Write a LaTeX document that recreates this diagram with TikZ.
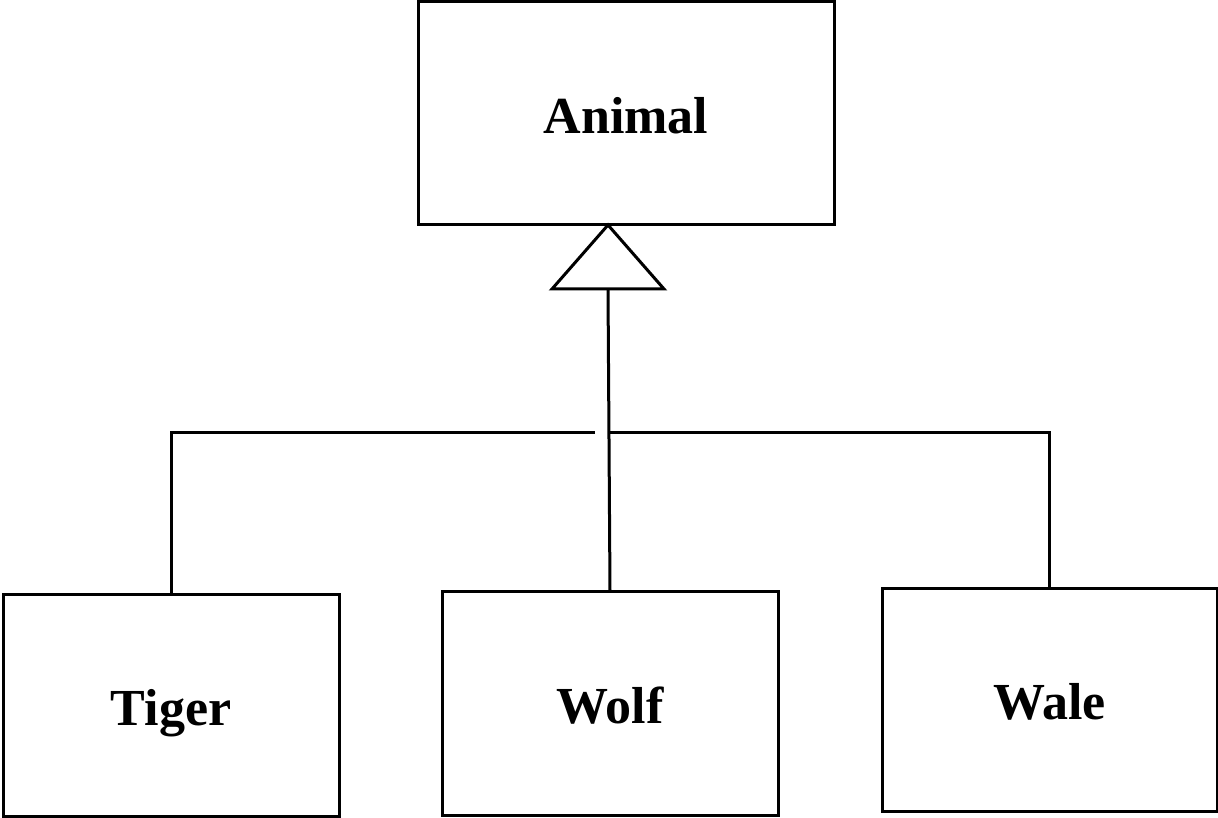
\documentclass[tikz,border=0pt]{standalone}
\usepackage{fontspec}
\setmainfont{Liberation Serif}
\begin{document}
\begin{tikzpicture}[x=1pt,y=-1pt,
  cls/.style={draw=black, line width=3pt, fill=white, inner sep=0pt, outer sep=0pt,
    text height=40pt, text depth=0pt,
    font=\fontsize{52}{60}\selectfont\bfseries},
  link/.style={draw=black, line width=3pt}]
\useasboundingbox (0,0) rectangle (1218,818);

% class boxes
\node[cls, minimum width=416pt, minimum height=223pt] (animal) at (626,113.5) {Animal};
\node[cls, minimum width=336pt, minimum height=222pt] (tiger) at (171,705) {Tiger};
\node[cls, minimum width=336pt, minimum height=224pt] (wolf) at (610,703) {Wolf};
\node[cls, minimum width=335pt, minimum height=223pt] (wale) at (1049.5,699.5) {Wale};

% inheritance arrowhead
\coordinate (tip) at (608,225);
\coordinate (baseL) at (552,289);
\coordinate (baseR) at (664,289);
\coordinate (base) at (608,289);
\draw[link, line join=miter] (tip) -- (baseL) -- (baseR) -- cycle;

% branch points
\coordinate (busL) at (595,432);
\coordinate (busR) at (608,432);

% generalisation lines
\draw[link] (base) -- (wolf.north);
\draw[link] (tiger.north) |- (busL);
\draw[link] (busR) -| (wale.north);
\end{tikzpicture}
\end{document}
